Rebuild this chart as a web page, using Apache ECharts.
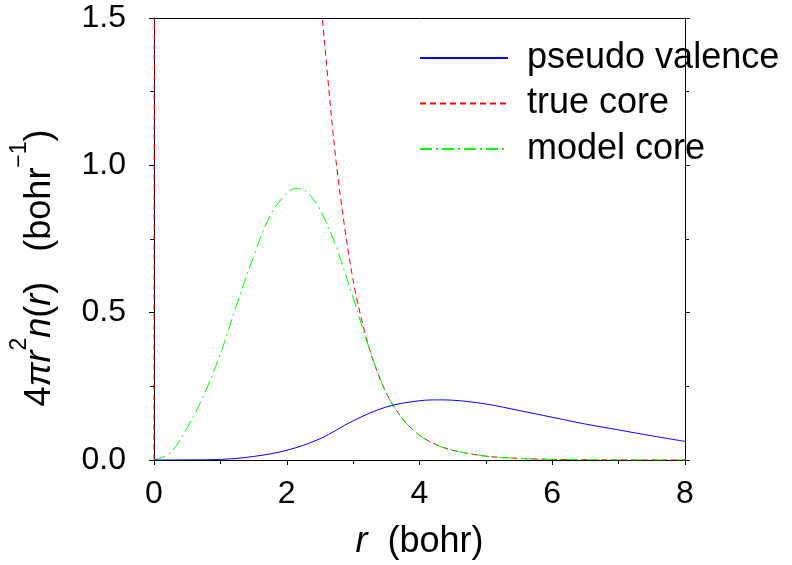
<!DOCTYPE html>
<html><head><meta charset="utf-8">
<script src="https://cdn.jsdelivr.net/npm/echarts@6/dist/echarts.min.js"></script>
<style>html,body{margin:0;padding:0;background:#fff}#c{width:792px;height:565px}</style>
</head><body><div id="c"></div>
<script>
// r (bohr) grids and densities 4πr²n(r) (bohr^-1)
const rValence = [0,0.5,1,1.5,2,2.5,3,3.5,4,4.3,4.5,5,5.5,6,6.5,7,7.5,8];
const pseudoValence = [0,0.0003,0.002,0.012,0.033,0.072,0.133,0.18,0.201,0.204,0.203,0.19,0.168,0.145,0.122,0.102,0.082,0.063];

const rCore = [0,0.01,0.03,0.1,0.3,0.6,1,1.5,2,2.25,2.5,2.75,3,3.25,3.5,3.75,4,4.25,4.5,5,5.5,6,7,8];
const trueCore = [0,3.0,6.0,9.0,5.0,4.0,4.2,3.8,2.6,2.1,1.58,1.0,0.61,0.374,0.227,0.138,0.084,0.052,0.033,0.013,0.0055,0.0022,0.0003,0.00005];

const rModel = [0,0.25,0.5,0.75,1,1.25,1.5,1.75,2,2.15,2.3,2.5,2.75,3,3.25,3.5,3.75,4,4.25,4.5,5,5.5,6,7,8];
const modelCore = [0,0.025,0.11,0.22,0.36,0.53,0.69,0.83,0.905,0.922,0.91,0.85,0.72,0.55,0.374,0.227,0.138,0.084,0.052,0.033,0.013,0.0055,0.0022,0.0003,0.00005];

const xTicks = [0,2,4,6,8];
const yTicks = [0.0,0.5,1.0,1.5];
const seriesNames = ['pseudo valence','true core','model core'];

const FONT = '"Liberation Sans", Arial, sans-serif';
const zip = (xs, ys) => xs.map((x,i)=>[x, ys[i]]);
const axisLine = {show:true, onZero:false, lineStyle:{color:'#000', width:1}};

const chart = echarts.init(document.getElementById('c'), null, {renderer:'canvas'});
chart.setOption({
  animation:false,
  backgroundColor:'#fff',
  grid:{left:154, right:107, top:18, bottom:105, containLabel:false, outerBoundsMode:'none'},
  legend:{
    orient:'vertical', left:414, top:35, itemWidth:88, itemHeight:14, itemGap:9.5,
    itemStyle:{opacity:0},
    textStyle:{fontSize:36, fontFamily:FONT, color:'#000', padding:[0,0,0,14]},
    data:seriesNames
  },
  xAxis:[{
    type:'value', min:0, max:8, interval:2,
    axisLine, axisTick:{show:true, inside:false, length:5, lineStyle:{color:'#000'}},
    minorTick:{show:true, splitNumber:2, length:4, lineStyle:{color:'#000'}},
    splitLine:{show:false},
    axisLabel:{fontSize:32, fontFamily:FONT, color:'#000', margin:18,
      formatter:v => xTicks.includes(v) ? String(v) : ''},
    name:'{i|r}{n|  (bohr)}', nameLocation:'middle', nameGap:64,
    nameTextStyle:{rich:{
      i:{fontSize:36, fontFamily:FONT, fontStyle:'italic', color:'#000'},
      n:{fontSize:36, fontFamily:FONT, color:'#000'}
    }}
  },{
    type:'value', position:'top', min:0, max:8, interval:2,
    axisLine, axisTick:{show:false}, axisLabel:{show:false}, splitLine:{show:false}
  }],
  yAxis:[{
    type:'value', min:0, max:1.5, interval:0.5,
    axisLine, axisTick:{show:true, length:5, lineStyle:{color:'#000'}},
    minorTick:{show:true, splitNumber:2, length:4, lineStyle:{color:'#000'}},
    splitLine:{show:false},
    axisLabel:{fontSize:32, fontFamily:FONT, color:'#000', margin:28,
      formatter:v => yTicks.some(t=>Math.abs(t-v)<1e-9) ? v.toFixed(1) : ''},
    name:'{n|4}{i|πr}{s|2}{i|n}{n|(}{i|r}{n|)   (bohr}{s|−1}{n|)}',
    nameLocation:'middle', nameGap:96, nameRotate:90,
    nameTextStyle:{padding:[0,58,0,0], rich:{
      n:{fontSize:36, fontFamily:FONT, color:'#000', lineHeight:50, verticalAlign:'bottom'},
      i:{fontSize:36, fontFamily:FONT, fontStyle:'italic', color:'#000', lineHeight:50, verticalAlign:'bottom'},
      s:{fontSize:23, fontFamily:FONT, color:'#000', lineHeight:50, verticalAlign:'top'}
    }}
  },{
    type:'value', position:'right', min:0, max:1.5, interval:0.5,
    axisLine, axisTick:{show:true, length:5, lineStyle:{color:'#000'}},
    minorTick:{show:true, splitNumber:2, length:4, lineStyle:{color:'#000'}},
    axisLabel:{show:false}, splitLine:{show:false}
  }],
  series:[
    {name:seriesNames[0], type:'line', data:zip(rValence,pseudoValence), smooth:0.35,
     symbol:'none', clip:true, lineStyle:{color:'#0000ff', width:1}, itemStyle:{color:'#0000ff'}, z:3},
    {name:seriesNames[1], type:'line', data:zip(rCore,trueCore), smooth:0.3,
     symbol:'none', clip:true, lineStyle:{color:'#ff0000', width:1, type:[6,4]}, itemStyle:{color:'#ff0000'}, z:2},
    {name:seriesNames[2], type:'line', data:zip(rModel,modelCore), smooth:0.35,
     symbol:'none', clip:true, lineStyle:{color:'#00ff00', width:1, type:[12,4,2,4]}, itemStyle:{color:'#00ff00'}, z:2}
  ]
});
</script></body></html>
